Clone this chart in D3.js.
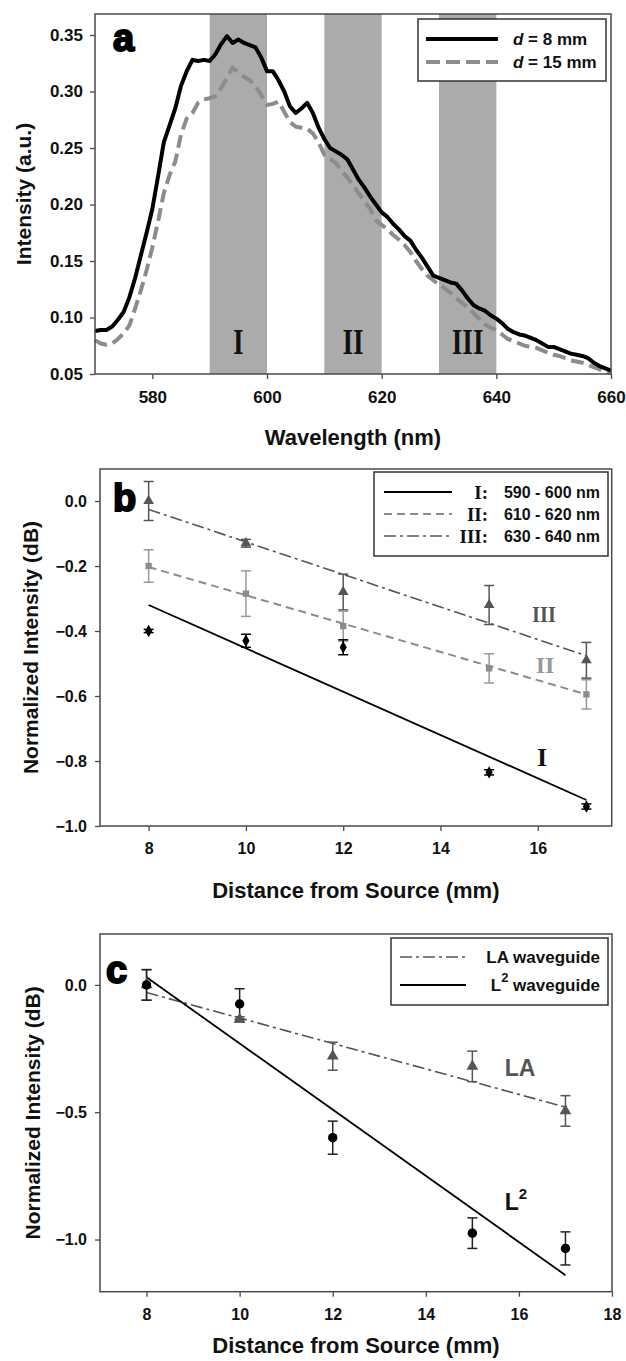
<!DOCTYPE html>
<html>
<head>
<meta charset="utf-8">
<script src="https://cdn.jsdelivr.net/npm/d3@7"></script>
<style>
  body { margin: 0; background: #fff; }
  text { font-family: "Liberation Sans", Arial, sans-serif; font-weight: bold; }
  .roman { font-family: "Liberation Serif", "Times New Roman", serif; font-weight: bold; }
</style>
</head>
<body>
<svg id="fig" width="626" height="1361"></svg>
<script>
// ---- panel a : spectra ----
const wavelengths = d3.range(570, 661);
const spec8 = [
  0.088, 0.089, 0.089, 0.092, 0.098, 0.105, 0.118, 0.135, 0.155, 0.175,
  0.196, 0.225, 0.255, 0.270, 0.285, 0.305, 0.318, 0.328, 0.327, 0.328,
  0.327, 0.333, 0.342, 0.349, 0.343, 0.346, 0.343, 0.341, 0.339, 0.330,
  0.318, 0.318, 0.310, 0.300, 0.287, 0.281, 0.285, 0.290, 0.281, 0.268,
  0.258, 0.250, 0.247, 0.244, 0.240, 0.231, 0.222, 0.215, 0.207, 0.200,
  0.193, 0.189, 0.183, 0.178, 0.172, 0.168, 0.160, 0.153, 0.145, 0.137,
  0.135, 0.133, 0.131, 0.130, 0.124, 0.117, 0.111, 0.108, 0.106, 0.102,
  0.099, 0.095, 0.090, 0.087, 0.085, 0.084, 0.082, 0.080, 0.077, 0.074,
  0.074, 0.072, 0.070, 0.068, 0.067, 0.066, 0.064, 0.060, 0.057, 0.055,
  0.053
];
const spec15 = [
  0.080, 0.077, 0.076, 0.077, 0.081, 0.086, 0.093, 0.108, 0.124, 0.142,
  0.162, 0.185, 0.210, 0.226, 0.238, 0.262, 0.276, 0.281, 0.290, 0.293,
  0.294, 0.296, 0.303, 0.312, 0.321, 0.317, 0.313, 0.310, 0.305, 0.297,
  0.288, 0.289, 0.291, 0.282, 0.273, 0.269, 0.268, 0.267, 0.263, 0.255,
  0.244, 0.240, 0.237, 0.230, 0.224, 0.217, 0.210, 0.203, 0.196, 0.186,
  0.182, 0.178, 0.173, 0.169, 0.164, 0.158, 0.150, 0.143, 0.137, 0.133,
  0.129, 0.126, 0.122, 0.117, 0.113, 0.109, 0.104, 0.099, 0.094, 0.091,
  0.089, 0.085, 0.081, 0.079, 0.077, 0.075, 0.074, 0.073, 0.071, 0.069,
  0.067, 0.066, 0.064, 0.062, 0.061, 0.060, 0.058, 0.056, 0.054, 0.052,
  0.051
];
const bandStart = [590, 610, 630];
const bandEnd = [600, 620, 640];
const bandNames = ["I", "II", "III"];
const ticksA_x = [580, 600, 620, 640, 660];
const ticksA_y = [0.05, 0.10, 0.15, 0.20, 0.25, 0.30, 0.35];

// ---- panel b : attenuation per band ----
const distB = [8, 10, 12, 15, 17];
const valI = [-0.40, -0.43, -0.45, -0.835, -0.94];
const errI = [0.005, 0.02, 0.023, 0.008, 0.008];
const valII = [-0.20, -0.285, -0.385, -0.515, -0.595];
const errII = [0.05, 0.07, 0.046, 0.045, 0.045];
const valIII = [0.0, -0.13, -0.28, -0.32, -0.49];
const errIII = [0.06, 0.012, 0.055, 0.06, 0.055];
const fitEnds = [8, 17];
const fitI = [-0.32, -0.92];
const fitII = [-0.203, -0.595];
const fitIII = [-0.026, -0.476];
const ticksB_x = [8, 10, 12, 14, 16];
const ticksB_y = [0.0, -0.2, -0.4, -0.6, -0.8, -1.0];

// ---- panel c : waveguide comparison ----
const distC = [8, 10, 12, 15, 17];
const valLA = [0.0, -0.135, -0.28, -0.32, -0.495];
const errLA = [0.06, 0.01, 0.055, 0.06, 0.06];
const valL2 = [0.0, -0.075, -0.60, -0.975, -1.035];
const errL2 = [0.06, 0.06, 0.065, 0.06, 0.065];
const fitLA = [-0.03, -0.48];
const fitL2 = [0.03, -1.14];
const ticksC_x = [8, 10, 12, 14, 16, 18];
const ticksC_y = [0.0, -0.5, -1.0];

const svg = d3.select("#fig");
svg.append("rect").attr("width", 626).attr("height", 1361).attr("fill", "#fff");

const frameColor = "#4a4a4a";
const GRAY = "#8c8c8c", DARK = "#555";

function frame(x, y, yTicks, yFmt, xTicks, fontSize, pad) {
  const g = svg.append("g");
  g.append("g")
    .attr("transform", `translate(${x.range()[0]},0)`)
    .call(d3.axisLeft(y).tickValues(yTicks).tickFormat(yFmt).tickSize(5).tickSizeOuter(0).tickPadding(pad))
    .call(s => s.select(".domain").remove());
  g.append("g")
    .attr("transform", `translate(0,${y.range()[0]})`)
    .call(d3.axisBottom(x).tickValues(xTicks).tickFormat(d3.format("d")).tickSize(5).tickSizeOuter(0).tickPadding(12))
    .call(s => s.select(".domain").remove());
  g.selectAll(".tick line").attr("stroke", frameColor).attr("stroke-width", 1.3);
  g.selectAll(".tick text").attr("fill", "#111").style("font-size", fontSize + "px")
    .style("font-family", '"Liberation Sans", Arial, sans-serif').style("font-weight", "bold");
  svg.append("rect")
    .attr("x", x.range()[0]).attr("y", y.range()[1])
    .attr("width", x.range()[1] - x.range()[0]).attr("height", y.range()[0] - y.range()[1])
    .attr("fill", "none").attr("stroke", frameColor).attr("stroke-width", 1.5);
}

function titles(x, y, xt, yt, xtY, ytX) {
  svg.append("text").attr("x", (x.range()[0] + x.range()[1]) / 2).attr("y", xtY)
    .attr("text-anchor", "middle").attr("dominant-baseline", "central")
    .style("font-size", "22px").attr("fill", "#111").text(xt);
  svg.append("text")
    .attr("transform", `translate(${ytX},${(y.range()[0] + y.range()[1]) / 2}) rotate(-90)`)
    .attr("text-anchor", "middle").attr("dominant-baseline", "central")
    .style("font-size", "21px").attr("fill", "#111").text(yt);
}

function panelLetter(t, px, py) {
  svg.append("text").attr("x", px).attr("y", py).text(t)
    .style("font-size", "38px").attr("fill", "#000").attr("stroke", "#000").attr("stroke-width", 2);
}

function errorBars(x, y, xs, vs, es, color) {
  const g = svg.append("g").attr("stroke", color).attr("stroke-width", 1.5);
  xs.forEach((d, i) => {
    const cx = x(d), top = y(vs[i] + es[i]), bot = y(vs[i] - es[i]);
    g.append("line").attr("x1", cx).attr("x2", cx).attr("y1", top).attr("y2", bot);
    g.append("line").attr("x1", cx - 5).attr("x2", cx + 5).attr("y1", top).attr("y2", top);
    g.append("line").attr("x1", cx - 5).attr("x2", cx + 5).attr("y1", bot).attr("y2", bot);
  });
}

function markers(x, y, xs, vs, type, size, color) {
  svg.append("g").selectAll("path").data(xs).join("path")
    .attr("transform", (d, i) => `translate(${x(d)},${y(vs[i])})`)
    .attr("d", d3.symbol().type(type).size(size))
    .attr("fill", color);
}

function fitLine(x, y, ends, vals, color, dash, w) {
  svg.append("path")
    .datum(ends.map((d, i) => [d, vals[i]]))
    .attr("d", d3.line().x(d => x(d[0])).y(d => y(d[1])))
    .attr("fill", "none").attr("stroke", color).attr("stroke-width", w)
    .attr("stroke-dasharray", dash);
}

function legendBox(bx, by, bw, bh) {
  svg.append("rect").attr("x", bx).attr("y", by).attr("width", bw).attr("height", bh)
    .attr("fill", "#fff").attr("stroke", "#333").attr("stroke-width", 1.5);
}

function legendLine(x0, x1, ly, color, w, dash) {
  svg.append("line").attr("x1", x0).attr("x2", x1).attr("y1", ly).attr("y2", ly)
    .attr("stroke", color).attr("stroke-width", w).attr("stroke-dasharray", dash);
}

function label(tx, ty, anchor, fs, cls) {
  const t = svg.append("text").attr("x", tx).attr("y", ty)
    .attr("dominant-baseline", "central").attr("text-anchor", anchor)
    .style("font-size", fs + "px").attr("fill", "#111");
  if (cls) t.attr("class", cls);
  return t;
}

// ================= panel a =================
const xA = d3.scaleLinear().domain([570, 660]).range([95, 611]);
const yA = d3.scaleLinear().domain([0.05, 0.3686]).range([374, 14]);

svg.append("g").selectAll("rect").data(bandStart).join("rect")
  .attr("x", d => xA(d)).attr("y", yA.range()[1])
  .attr("width", (d, i) => xA(bandEnd[i]) - xA(d))
  .attr("height", yA.range()[0] - yA.range()[1])
  .attr("fill", "#ababab");

svg.append("g").selectAll("text").data(bandNames).join("text")
  .attr("class", "roman")
  .attr("transform", (d, i) => `translate(${xA((bandStart[i] + bandEnd[i]) / 2)},342) scale(0.78,1)`)
  .attr("text-anchor", "middle").attr("dominant-baseline", "central")
  .style("font-size", "35px").attr("fill", "#111").text(d => d);

const lineA = d3.line().x((d, i) => xA(wavelengths[i])).y(d => yA(d));
svg.append("path").datum(spec15).attr("d", lineA).attr("fill", "none")
  .attr("stroke", GRAY).attr("stroke-width", 4).attr("stroke-dasharray", "13,6");
svg.append("path").datum(spec8).attr("d", lineA).attr("fill", "none")
  .attr("stroke", "#000").attr("stroke-width", 4).attr("stroke-linejoin", "round");

frame(xA, yA, ticksA_y, d3.format(".2f"), ticksA_x, 17, 7);
titles(xA, yA, "Wavelength (nm)", "Intensity (a.u.)", 437, 23);
panelLetter("a", 113, 51);

legendBox(418, 19, 188, 62);
legendLine(426, 498, 39, "#000", 4, null);
legendLine(426, 498, 62, GRAY, 4, "14,6");
label(513, 39, "start", 17).call(t => { t.append("tspan").style("font-style", "italic").text("d"); t.append("tspan").text(" = 8 mm"); });
label(513, 62, "start", 17).call(t => { t.append("tspan").style("font-style", "italic").text("d"); t.append("tspan").text(" = 15 mm"); });

// ================= panel b =================
const xB = d3.scaleLinear().domain([7, 17.52]).range([100, 611.7]);
const yB = d3.scaleLinear().domain([-1.0, 0.0985]).range([826, 469]);

fitLine(xB, yB, fitEnds, fitIII, DARK, "12,4,3,4", 1.6);
fitLine(xB, yB, fitEnds, fitII, GRAY, "8,5", 2);
fitLine(xB, yB, fitEnds, fitI, "#000", null, 1.8);

errorBars(xB, yB, distB, valIII, errIII, DARK);
errorBars(xB, yB, distB, valII, errII, "#999");
errorBars(xB, yB, distB, valI, errI, "#000");
markers(xB, yB, distB, valIII, d3.symbolTriangle, 50, DARK);
markers(xB, yB, distB, valII, d3.symbolSquare, 40, GRAY);
markers(xB, yB, distB, valI, d3.symbolDiamond, 45, "#000");

frame(xB, yB, ticksB_y, d3.format(".1f"), ticksB_x, 16, 8);
titles(xB, yB, "Distance from Source (mm)", "Normalized Intensity (dB)", 890, 30);
panelLetter("b", 113, 511);

label(544, 614, "middle", 24, "roman").attr("fill", DARK).attr("transform", "translate(544,614) scale(0.85,1) translate(-544,-614)").text("III");
label(545, 665, "middle", 24, "roman").attr("fill", "#999").text("II");
label(542, 757, "middle", 26, "roman").text("I");

legendBox(374, 472, 234, 84);
legendLine(384, 452, 492, "#000", 1.8, null);
legendLine(384, 452, 514, GRAY, 2, "8,5");
legendLine(384, 452, 536, DARK, 1.6, "12,4,3,4");
[["I", 492, "590 - 600 nm"], ["II", 514, "610 - 620 nm"], ["III", 536, "630 - 640 nm"]].forEach(r => {
  label(488, r[1], "end", 19, "roman").text(r[0] + ":");
  label(600, r[1], "end", 16).text(r[2]);
});

// ================= panel c =================
const xC = d3.scaleLinear().domain([7, 18]).range([100, 612]);
const yC = d3.scaleLinear().domain([-1.205, 0.2]).range([1291.7, 934]);

fitLine(xC, yC, fitEnds, fitLA, DARK, "12,4,3,4", 1.6);
fitLine(xC, yC, fitEnds, fitL2, "#000", null, 1.8);

errorBars(xC, yC, distC, valLA, errLA, DARK);
errorBars(xC, yC, distC, valL2, errL2, "#222");
markers(xC, yC, distC, valLA, d3.symbolTriangle, 60, DARK);
markers(xC, yC, distC, valL2, d3.symbolCircle, 70, "#000");

frame(xC, yC, ticksC_y, d3.format(".1f"), ticksC_x, 16, 8);
titles(xC, yC, "Distance from Source (mm)", "Normalized Intensity (dB)", 1345, 32);
panelLetter("c", 106, 983);

label(520, 1068, "middle", 23).attr("fill", DARK).text("LA");
label(516, 1202, "middle", 23)
  .call(t => { t.append("tspan").text("L"); t.append("tspan").attr("baseline-shift", "super").style("font-size", "15px").text("2"); });

legendBox(391, 938, 217, 67);
legendLine(400, 466, 957, DARK, 1.6, "12,4,3,4");
legendLine(400, 466, 985, "#000", 1.8, null);
label(600, 957, "end", 17).text("LA waveguide");
label(600, 985, "end", 17)
  .call(t => { t.append("tspan").text("L"); t.append("tspan").attr("baseline-shift", "super").style("font-size", "13px").text("2"); t.append("tspan").text(" waveguide"); });
</script>
</body>
</html>
